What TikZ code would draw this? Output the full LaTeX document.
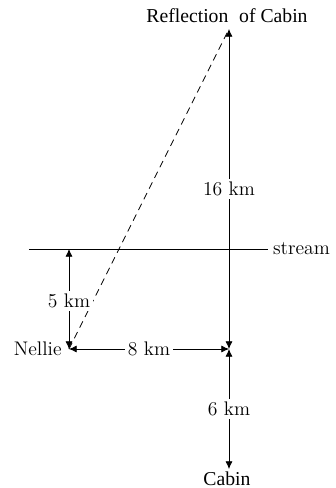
\documentclass[tikz,border=0pt]{standalone}
\usepackage{fontspec}
\newfontfamily\timesf{Liberation Serif}
\usetikzlibrary{arrows.meta}
\begin{document}
\begin{tikzpicture}[x=0.5cm,y=0.5cm,
  font=\fontsize{14}{17}\selectfont,
  every path/.style={line width=0.5pt},
  dim/.style={{Latex[length=5.5pt,width=5pt]}-{Latex[length=5.5pt,width=5pt]}},
  lab/.style={fill=white,inner sep=2pt},
  serif/.style={font=\fontsize{14}{17}\selectfont\timesf}]
\useasboundingbox (-3.45,-6.95) rectangle (13.35,17.45);
\coordinate (N) at (0,0);
\coordinate (C) at (8,0);
\coordinate (R) at (8,16);
\coordinate (B) at (8,-6);
\coordinate (F) at (0,5);
\coordinate (S1) at (-2,5);
\coordinate (S2) at (9.95,5);
% stream
\draw (S1) -- (S2);
\node[right] (stream) at (S2) {stream};
% dashed line
\draw[dash pattern=on 5pt off 3.5pt] (N) -- (R);
% 5 km
\draw[dim] (F) -- (N) node[lab,pos=0.52] (l5) {5 km};
% 8 km
\draw[dim] (N) -- (C) node[lab,midway] (l8) {8 km};
% 16 km
\draw[dim] (C) -- (R) node[lab,midway] (l16) {16 km};
% 6 km
\draw[dim] (C) -- (B) node[lab,midway] (l6) {6 km};
% labels
\node[left,inner sep=5pt] (nellie) at (N) {Nellie};
\node[serif] (refl) at (7.9,16.65) {Reflection\hspace{0.3em} of Cabin};
\node[serif] (cabin) at (7.9,-6.5) {Cabin};
\end{tikzpicture}
\end{document}
